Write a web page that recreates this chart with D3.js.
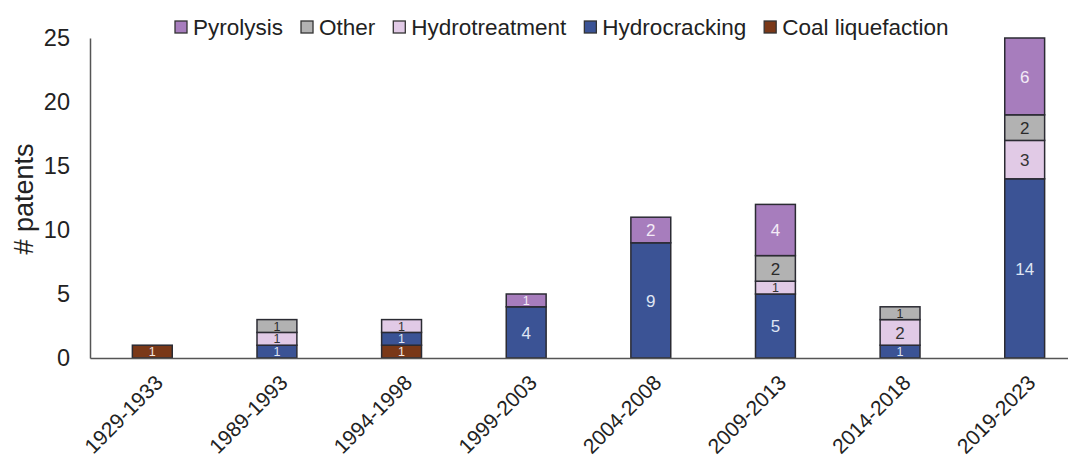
<!DOCTYPE html>
<html>
<head>
<meta charset="utf-8">
<script src="https://cdn.jsdelivr.net/npm/d3@7"></script>
<style>
  body { margin: 0; background: #fff; }
  svg { display: block; font-family: Arial, "Liberation Sans", sans-serif; }
</style>
</head>
<body>
<svg id="chart" width="1068" height="461"></svg>
<script>
const categories = ["1929-1933", "1989-1993", "1994-1998", "1999-2003", "2004-2008", "2009-2013", "2014-2018", "2019-2023"];
const seriesNames = ["Coal liquefaction", "Hydrocracking", "Hydrotreatment", "Other", "Pyrolysis"];
const coalLiquefaction = [1, 0, 1, 0, 0, 0, 0, 0];
const hydrocracking    = [0, 1, 1, 4, 9, 5, 1, 14];
const hydrotreatment   = [0, 1, 1, 0, 0, 1, 2, 3];
const other            = [0, 1, 0, 0, 0, 2, 1, 2];
const pyrolysis        = [0, 0, 0, 1, 2, 4, 0, 6];
const yTicks = [0, 5, 10, 15, 20, 25];
const legendOrder = ["Pyrolysis", "Other", "Hydrotreatment", "Hydrocracking", "Coal liquefaction"];

const colors = {
  "Coal liquefaction": "#7a3818",
  "Hydrocracking": "#3b5395",
  "Hydrotreatment": "#e1cae6",
  "Other": "#b2b2b2",
  "Pyrolysis": "#a77dbd"
};
const labelColors = {
  "Coal liquefaction": "#f3e6e0",
  "Hydrocracking": "#dfe5f3",
  "Hydrotreatment": "#333333",
  "Other": "#2a2a2a",
  "Pyrolysis": "#f4ebf7"
};

const valuesBySeries = {
  "Coal liquefaction": coalLiquefaction,
  "Hydrocracking": hydrocracking,
  "Hydrotreatment": hydrotreatment,
  "Other": other,
  "Pyrolysis": pyrolysis
};
const table = categories.map((c, i) => {
  const row = { category: c };
  seriesNames.forEach(s => row[s] = valuesBySeries[s][i]);
  return row;
});

const svg = d3.select("#chart");
const x = d3.scaleBand().domain(categories).range([90, 1087]).paddingInner(0.68).paddingOuter(0.34);
const y = d3.scaleLinear().domain([0, 25]).range([358, 38]);

const stacked = d3.stack().keys(seriesNames)(table);

// bars
const groups = svg.append("g").selectAll("g").data(stacked).join("g")
  .attr("fill", d => colors[d.key]);
groups.selectAll("rect").data(d => d.map(p => ({ key: d.key, p }))).join("rect")
  .filter(d => d.p[1] - d.p[0] > 0)
  .attr("x", d => x(d.p.data.category))
  .attr("width", x.bandwidth())
  .attr("y", d => y(d.p[1]))
  .attr("height", d => y(d.p[0]) - y(d.p[1]))
  .attr("stroke", "#2b2b33")
  .attr("stroke-width", 1.5);

// labels
const labelG = svg.append("g");
stacked.forEach(layer => {
  layer.forEach(p => {
    const v = p[1] - p[0];
    if (v <= 0) return;
    const small = (y(p[0]) - y(p[1])) < 16;
    labelG.append("text")
      .attr("x", x(p.data.category) + x.bandwidth() / 2)
      .attr("y", (y(p[0]) + y(p[1])) / 2)
      .attr("dy", "0.36em")
      .attr("text-anchor", "middle")
      .attr("font-size", small ? 12.5 : 17)
      .attr("fill", labelColors[layer.key])
      .text(v);
  });
});

// axes
const xAxis = svg.append("g").attr("transform", "translate(0,358)")
  .call(d3.axisBottom(x).tickSize(0).tickSizeOuter(0));
xAxis.select(".domain").attr("stroke", "#555").attr("stroke-width", 1.5);
xAxis.selectAll("text")
  .attr("font-size", 21)
  .attr("fill", "#222")
  .attr("text-anchor", "end")
  .attr("dx", null).attr("dy", null)
  .attr("y", 0)
  .attr("transform", "translate(12,26) rotate(-45)");

const yAxis = svg.append("g").attr("transform", "translate(90,0)")
  .call(d3.axisLeft(y).tickValues(yTicks).tickSize(0).tickSizeOuter(0).tickPadding(20));
yAxis.select(".domain").attr("stroke", "#555").attr("stroke-width", 1.5);
yAxis.selectAll("text").attr("font-size", 23.5).attr("fill", "#222");

svg.append("text")
  .attr("transform", "translate(33,199) rotate(-90)")
  .attr("text-anchor", "middle")
  .attr("font-size", 27)
  .attr("fill", "#222")
  .text("# patents");

// legend
const legend = svg.append("g");
let lx = 175;
legendOrder.forEach(name => {
  legend.append("rect")
    .attr("x", lx).attr("y", 21).attr("width", 12).attr("height", 12)
    .attr("fill", colors[name]).attr("stroke", "#333").attr("stroke-width", 1.3);
  const t = legend.append("text")
    .attr("x", lx + 18).attr("y", 27).attr("dy", "0.36em")
    .attr("font-size", 22.5).attr("fill", "#222")
    .text(name);
  lx += 18 + t.node().getComputedTextLength() + 18;
});
</script>
</body>
</html>
